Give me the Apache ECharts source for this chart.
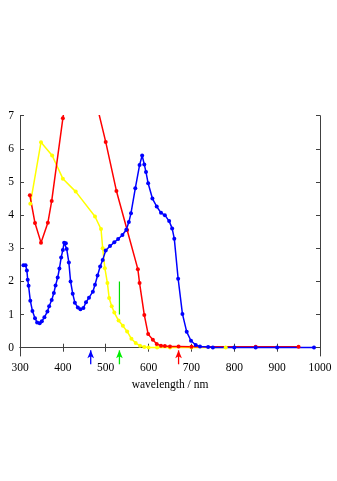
<!DOCTYPE html>
<html><head><meta charset="utf-8">
<script src="https://cdn.jsdelivr.net/npm/echarts@6/dist/echarts.min.js"></script>
<style>html,body{margin:0;padding:0;background:#fff}#c{width:337px;height:481px}</style>
</head><body><div id="c"></div>
<script>
// x tick labels
const xTicks = [300, 400, 500, 600, 700, 800, 900, 1000];
const yTicks = [0, 1, 2, 3, 4, 5, 6, 7];
const xTitle = 'wavelength / nm';

// blue series
const blueX = [308,313,316,318,320,324,329,335,340,346,351,357,364,368,374,379,383,388,392,396,400,403,407,409,414,418,423,428,435,441,448,454,461,470,475,481,487,493,500,510,520,529,539,548,554,559,569,579,585,590,594,599,609,619,629,638,648,655,660,669,679,689,699,710,720,739,750,800,850,900,986];
const blueY = [2.49,2.49,2.33,2.05,1.87,1.42,1.11,0.89,0.76,0.74,0.8,0.92,1.09,1.25,1.44,1.65,1.88,2.12,2.39,2.72,2.95,3.17,3.15,2.98,2.57,2.0,1.63,1.36,1.21,1.16,1.2,1.37,1.51,1.69,1.9,2.18,2.45,2.65,2.93,3.07,3.18,3.28,3.4,3.56,3.79,4.06,4.81,5.51,5.8,5.53,5.3,4.96,4.5,4.26,4.07,4.0,3.82,3.6,3.29,2.08,1.02,0.48,0.21,0.08,0.04,0.02,0.01,0.01,0.01,0.01,0.01];

// red series
const redX = [323,335,349,365,374,400,425,450,475,500,525,550,575,579,590,599,610,619,629,638,650,670,700,850,950];
const redY = [4.6,3.76,3.17,3.77,4.43,6.92,9.0,9.5,7.55,6.21,4.73,3.55,2.37,1.95,0.99,0.41,0.24,0.11,0.06,0.05,0.04,0.04,0.03,0.03,0.03];

// yellow series
const yellowX = [324,349,375,400,430,475,489,493,498,504,508,514,520,530,540,550,560,570,580,590,600,620,650,700,780];
const yellowY = [4.34,6.2,5.8,5.1,4.71,3.96,3.58,3.0,2.4,1.95,1.5,1.25,1.06,0.82,0.66,0.49,0.27,0.14,0.06,0.02,0.01,0.01,0.01,0.01,0.01];

// annotations
const arrowX = [465, 532, 670];
const arrowColors = ['#0000ff', '#00ee00', '#ff0000'];
const greenBarX = 532;
const greenBarY = [1, 2];

const zip = (xs, ys) => xs.map((x, i) => [x, ys[i]]);
const font = 'Liberation Serif, Times New Roman, serif';
const frame = '#404040';

const lineSeries = (name, xs, ys, color) => ({
  name, type: 'line', data: zip(xs, ys), color,
  lineStyle: { width: 1.5, color }, itemStyle: { color },
  symbol: 'circle', symbolSize: 4, showSymbol: true, clip: true, animation: false, z: 3
});

const series = [
  lineSeries('yellow', yellowX, yellowY, '#ffff00'),
  lineSeries('red', redX, redY, '#ff0000'),
  lineSeries('blue', blueX, blueY, '#0000ff'),
  { type: 'line', data: greenBarY.map(v => [greenBarX, v]), symbol: 'none',
    lineStyle: { width: 1.2, color: '#00dd00' }, animation: false, z: 2 }
];
arrowX.forEach((x, i) => {
  series.push({
    type: 'line', clip: false, animation: false, z: 5,
    lineStyle: { width: 1.3, color: arrowColors[i] },
    itemStyle: { color: arrowColors[i] },
    data: [
      { value: [x, -0.5], symbol: 'none' },
      { value: [x, -0.08], symbol: 'arrow', symbolSize: [5, 8] }
    ]
  });
});

const chart = echarts.init(document.getElementById('c'), null, { renderer: 'canvas' });
chart.setOption({
  backgroundColor: '#ffffff',
  animation: false,
  grid: { left: 20, right: 17, top: 115.7, bottom: 125, containLabel: false },
  xAxis: [
    { type: 'value', min: 300, max: 1000, interval: 100, position: 'bottom',
      name: xTitle, nameLocation: 'middle', nameGap: 23,
      nameTextStyle: { fontFamily: font, fontSize: 11.5, color: '#000' },
      axisLine: { lineStyle: { color: frame, width: 1 } },
      axisTick: { inside: true, length: 4, lineStyle: { color: frame } },
      axisLabel: { fontFamily: font, fontSize: 11.5, color: '#000', margin: 6,
        formatter: v => xTicks.includes(v) ? String(v) : '' },
      splitLine: { show: false } },
    { type: 'value', min: 300, max: 1000, interval: 100, position: 'top',
      axisLine: { lineStyle: { color: frame, width: 1 } },
      axisTick: { inside: true, length: 4, lineStyle: { color: frame } },
      axisLabel: { show: false }, splitLine: { show: false } }
  ],
  yAxis: [
    { type: 'value', min: -0.25, max: 7, position: 'left',
      axisLine: { show: true, lineStyle: { color: frame, width: 1 } },
      axisTick: { show: true, inside: true, length: 4, customValues: yTicks, lineStyle: { color: frame } },
      axisLabel: { fontFamily: font, fontSize: 11.5, color: '#000', margin: 6, customValues: yTicks },
      splitLine: { show: false } },
    { type: 'value', min: -0.25, max: 7, position: 'right',
      axisLine: { show: true, lineStyle: { color: frame, width: 1 } },
      axisTick: { show: true, inside: true, length: 4, customValues: yTicks, lineStyle: { color: frame } },
      axisLabel: { show: false }, splitLine: { show: false } }
  ],
  series
});
</script></body></html>
